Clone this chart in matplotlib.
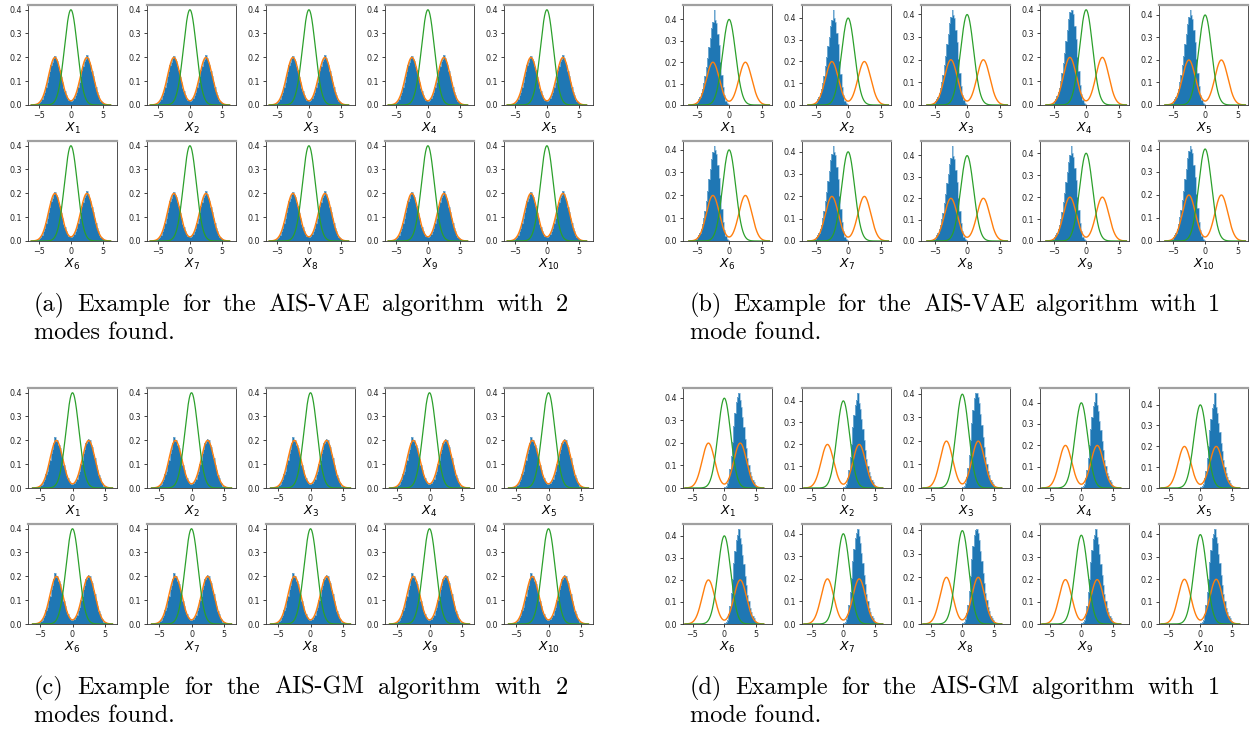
import numpy as np
import matplotlib
matplotlib.use("Agg")
import matplotlib.pyplot as plt
from matplotlib.ticker import MultipleLocator

W, H = 1250, 732

# histogram bin heights (bin width 0.2)
bin_w = 0.2
bimodal_a_start = -6.0
bimodal_a = [0.001, 0.001, 0.002, 0.004, 0.007, 0.011, 0.018, 0.026, 0.041, 0.054,
             0.076, 0.095, 0.123, 0.143, 0.169, 0.181, 0.198, 0.207, 0.192, 0.186,
             0.163, 0.147, 0.119, 0.098, 0.073, 0.057, 0.040, 0.030, 0.021, 0.019,
             0.017, 0.022, 0.028, 0.042, 0.055, 0.077, 0.096, 0.122, 0.146, 0.165,
             0.186, 0.194, 0.211, 0.196, 0.182, 0.168, 0.143, 0.122, 0.096, 0.076,
             0.055, 0.040, 0.027, 0.018, 0.011, 0.007, 0.004, 0.002, 0.001, 0.001]
bimodal_c_start = -6.0
bimodal_c = [0.001, 0.001, 0.002, 0.005, 0.006, 0.012, 0.017, 0.028, 0.039, 0.057,
             0.073, 0.099, 0.119, 0.147, 0.165, 0.188, 0.214, 0.197, 0.199, 0.181,
             0.168, 0.142, 0.123, 0.095, 0.076, 0.055, 0.042, 0.028, 0.022, 0.017,
             0.019, 0.021, 0.030, 0.039, 0.057, 0.073, 0.099, 0.119, 0.148, 0.163,
             0.189, 0.196, 0.204, 0.201, 0.180, 0.170, 0.141, 0.124, 0.095, 0.077,
             0.054, 0.041, 0.026, 0.019, 0.010, 0.007, 0.004, 0.002, 0.001, 0.001]
left_mode_start = -6.0
left_mode = [0.001, 0.002, 0.003, 0.006, 0.010, 0.016, 0.026, 0.036, 0.054, 0.073,
             0.102, 0.133, 0.177, 0.218, 0.270, 0.314, 0.361, 0.389, 0.412, 0.398,
             0.383, 0.331, 0.278, 0.202, 0.142, 0.083, 0.046, 0.020, 0.009, 0.004,
             0.002, 0.001, 0.0005]
left_peak_bin = 18
right_mode_start = -0.6
right_mode = [0.0005, 0.001, 0.002, 0.004, 0.010, 0.020, 0.046, 0.083, 0.142, 0.203,
              0.277, 0.332, 0.382, 0.402, 0.412, 0.389, 0.360, 0.314, 0.270, 0.218,
              0.176, 0.133, 0.103, 0.072, 0.054, 0.036, 0.026, 0.015, 0.010, 0.006,
              0.003, 0.002, 0.001]
right_peak_bin = 14

# tallest bar of each subplot (X1..X10)
peaks_b = [0.444, 0.437, 0.420, 0.398, 0.422, 0.417, 0.426, 0.445, 0.433, 0.413]
peaks_d = [0.423, 0.436, 0.405, 0.446, 0.457, 0.431, 0.421, 0.407, 0.428, 0.425]

# target mixture (orange) and prior (green)
target_means = [-2.5, 2.5]
target_weights = [0.5, 0.5]
target_sd = 1.0
prior_mean, prior_sd = 0.0, 1.0

captions = {
    "a": ["(a) Example for the AIS-VAE algorithm with 2", "modes found."],
    "b": ["(b) Example for the AIS-VAE algorithm with 1", "mode found."],
    "c": ["(c) Example for the AIS-GM algorithm with 2", "modes found."],
    "d": ["(d) Example for the AIS-GM algorithm with 1", "mode found."],
}


def normal_pdf(x, m, s):
    return np.exp(-0.5 * ((x - m) / s) ** 2) / (s * np.sqrt(2 * np.pi))


xs = np.linspace(-6.2, 6.2, 500)
green = normal_pdf(xs, prior_mean, prior_sd)
orange = sum(w * normal_pdf(xs, m, target_sd) for w, m in zip(target_weights, target_means))

fig = plt.figure(figsize=(12.5, 7.32), dpi=100)

panels = {
    # name: (col lefts px, row tops px, xlim, heights, start, peaks, peak bin)
    "a": ([28, 147, 266, 385, 504], [5, 141], (-6.7, 7.2), bimodal_a, bimodal_a_start, None, None),
    "b": ([683, 802, 921, 1040, 1159], [5, 141], (-7.1, 6.6), left_mode, left_mode_start, peaks_b, left_peak_bin),
    "c": ([28, 147, 266, 385, 504], [388, 524], (-6.9, 6.9), bimodal_c, bimodal_c_start, None, None),
    "d": ([683, 802, 921, 1040, 1159], [388, 524], (-6.5, 7.5), right_mode, right_mode_start, peaks_d, right_peak_bin),
}

for name, (lefts, tops, xlim, heights, start, peaks, pbin) in panels.items():
    for i in range(10):
        r, c = divmod(i, 5)
        ax = fig.add_axes([lefts[c] / W, 1 - (tops[r] + 100) / H, 89 / W, 100 / H])
        h = np.array(heights, dtype=float)
        if peaks is not None:
            h[pbin] = peaks[i]
        edges = start + bin_w * np.arange(len(h) + 1)
        ax.stairs(h, edges, fill=True, color="#1f77b4", lw=0)
        ax.stairs(h, edges, color="#8dbbdc", lw=0.5)
        ax.plot(xs, orange, color="#ff7f0e", lw=1.0)
        ax.plot(xs, green, color="#2ca02c", lw=0.9)
        ax.set_xlim(*xlim)
        ax.set_ylim(0, max(h.max(), green.max()) * 1.05)
        ax.xaxis.set_major_locator(MultipleLocator(5))
        ax.yaxis.set_major_locator(MultipleLocator(0.1))
        ax.tick_params(labelsize=5.8, length=2.5, width=0.6, pad=1.5, colors="#222222")
        ax.set_xlabel(r"$X_{%d}$" % (i + 1), fontsize=9, labelpad=1)
        for s in ["left", "bottom", "right"]:
            ax.spines[s].set_linewidth(0.6)
            ax.spines[s].set_color("#333333")
        ax.spines["top"].set_linewidth(1.6)
        ax.spines["top"].set_color("#a0a0a0")

# captions, first line justified like the LaTeX source
renderer = fig.canvas.get_renderer()
cap_pos = {"a": (34, 568, 311), "b": (690, 1220, 311), "c": (34, 568, 694), "d": (690, 1220, 694)}
cap_kw = dict(fontfamily="cmr10", fontsize=17.5, va="baseline", ha="left")
for name, (x0, x1, yb) in cap_pos.items():
    line1, line2 = captions[name]
    words = line1.split(" ")
    texts = [fig.text(0, 1 - yb / H, w, **cap_kw) for w in words]
    widths = [t.get_window_extent(renderer).width for t in texts]
    gap = (x1 - x0 - sum(widths)) / (len(words) - 1)
    x = x0
    for t, w in zip(texts, widths):
        t.set_x(x / W)
        x += w + gap
    fig.text(x0 / W, 1 - (yb + 28) / H, line2, **cap_kw)

fig.savefig("out.png", dpi=100)
